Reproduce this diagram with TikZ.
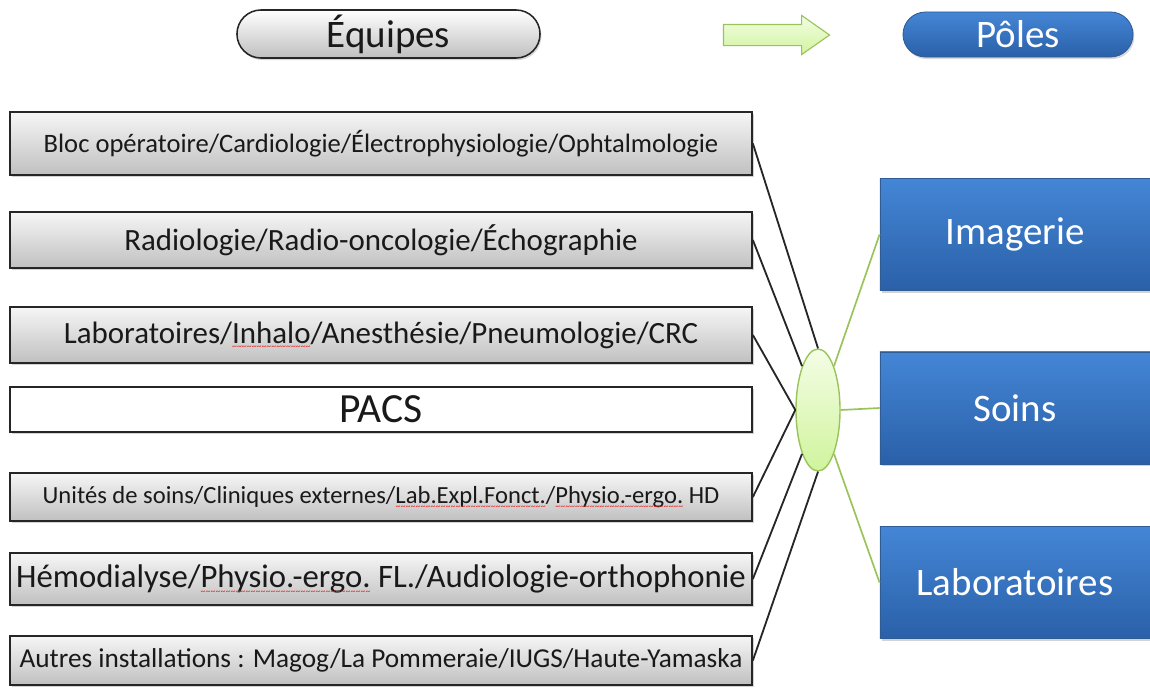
\documentclass[tikz,border=0pt]{standalone}
\usepackage{fontspec}
\setmainfont{Carlito}
\usepackage{tikz}
\usetikzlibrary{shapes.misc,shapes.geometric,shapes.arrows,shadows}

\definecolor{boxtop}{RGB}{246,246,246}
\definecolor{boxbot}{RGB}{192,192,192}
\definecolor{poletop}{RGB}{68,134,214}
\definecolor{polebot}{RGB}{42,96,168}
\definecolor{poleedge}{RGB}{48,92,150}
\definecolor{linkgreen}{RGB}{155,195,92}
\definecolor{elltop}{RGB}{244,253,230}
\definecolor{ellbot}{RGB}{208,244,156}
\definecolor{wavered}{RGB}{232,40,40}

% soulignement ondule rouge
\newsavebox\spellbox
\newcommand\spellwave[1]{\sbox\spellbox{#1}\rlap{\usebox\spellbox}%
  \raisebox{-4.6pt}[0pt][0pt]{\color{wavered}\hbox to \wd\spellbox{\xleaders\hbox{\fontsize{7}{7}\selectfont\char"7E}\hfill}}}

\newcommand{\fs}[1]{\fontsize{#1}{1.2\dimexpr#1pt\relax}\selectfont}

\tikzset{
  team/.style={draw=black!85, line width=1.1pt, top color=boxtop, bottom color=boxbot,
    minimum width=18.55cm, inner sep=0pt, text=black!90,
    drop shadow={opacity=0.35, shadow xshift=1.5pt, shadow yshift=-1.5pt}},
  pole/.style={draw=poleedge, line width=0.6pt, top color=poletop, bottom color=polebot,
    minimum width=6.75cm, minimum height=2.8cm, inner sep=0pt, text=white,
    font=\fs{27.7}, drop shadow={opacity=0.35, shadow xshift=1.5pt, shadow yshift=-1.5pt}},
  link/.style={draw=black!85, line width=1.3pt},
  glink/.style={draw=linkgreen, line width=1.2pt},
}

\begin{document}
\begin{tikzpicture}[x=0.025cm, y=-0.025cm]
  \useasboundingbox (0,0) rectangle (1150,692);

  % titres
  \node[rounded rectangle, draw=black!85, line width=1.1pt, top color=white, bottom color=black!25,
    minimum width=7.575cm, minimum height=1.2cm, inner sep=0pt, font=\fs{27.7}, text=black!90,
    drop shadow={opacity=0.3, shadow xshift=1pt, shadow yshift=-1.5pt}] (equipes) at (388.5,34) {Équipes};
  \node[single arrow, draw=linkgreen, line width=0.8pt, top color=elltop, bottom color=ellbot,
    minimum height=2.65cm, minimum width=0.95cm, single arrow head extend=0.225cm,
    single arrow tip angle=70, inner xsep=0pt, inner ysep=0.25cm] (fleche) at (769,35) {};
  \node[rounded rectangle, draw=poleedge, line width=0.6pt, top color=poletop, bottom color=polebot,
    minimum width=5.75cm, minimum height=1.125cm, inner sep=0pt, font=\fs{27.7}, text=white,
    drop shadow={opacity=0.3, shadow xshift=1pt, shadow yshift=-1.5pt}] (poles) at (1018,34.5) {Pôles};

  % equipes
  \node[team, minimum height=1.575cm, font=\fs{18.9}] (t1) at (381,143.5)
    {Bloc opératoire/Cardiologie/Électrophysiologie/Ophtalmologie};
  \node[team, minimum height=1.4cm, font=\fs{22}] (t2) at (381,240)
    {Radiologie/Radio-oncologie/Échographie};
  \node[team, minimum height=1.4cm, font=\fs{22}] (t3) at (381,335)
    {Laboratoires/\spellwave{Inhalo}/Anesthésie/Pneumologie/CRC};
  \node[team, minimum height=1.125cm, font=\fs{29.5}, top color=white, bottom color=white] (t4) at (381,409.5)
    {PACS\hspace{6pt}};
  \node[team, minimum height=1.2cm, font=\fs{17.5}] (t5) at (381,497)
    {Unités de soins/Cliniques externes/\spellwave{Lab.Expl.Fonct.}/\spellwave{Physio.-ergo.} HD};
  \node[team, minimum height=1.3cm, font=\fs{23.3}] (t6) at (381,579)
    {Hémodialyse/\spellwave{Physio.-ergo.} FL./Audiologie-orthophonie};
  \node[team, minimum height=1.225cm, font=\fs{19.4}] (t7) at (381,660.5)
    {Autres installations : Magog/La Pommeraie/IUGS/Haute-Yamaska};

  % poles
  \node[pole] (p1) at (1015,234.5) {Imagerie};
  \node[pole] (p2) at (1015,408) {Soins};
  \node[pole] (p3) at (1015,582.5) {Laboratoires};

  % noeud central
  \node[ellipse, draw=linkgreen, line width=1pt, top color=elltop, bottom color=ellbot,
    minimum width=1.1cm, minimum height=3.05cm, inner sep=0pt] (hub) at (818,410) {};

  \draw[link] (t1.east) -- (hub.north); % t1-hub
  \draw[link] (t2.east) -- (hub.110); % t2-hub
  \draw[link] (t3.east) -- (hub.west); % t3-hub
  \draw[link] (t5.east) -- (hub.west); % t5-hub
  \draw[link] (t6.east) -- (hub.250); % t6-hub
  \draw[link] (t7.east) -- (hub.south); % t7-hub

  \draw[glink] (hub.70) -- (p1.west); % hub-imagerie
  \draw[glink] (hub.east) -- (p2.west); % hub-soins
  \draw[glink] (hub.290) -- (p3.west); % hub-labos
\end{tikzpicture}
\end{document}
